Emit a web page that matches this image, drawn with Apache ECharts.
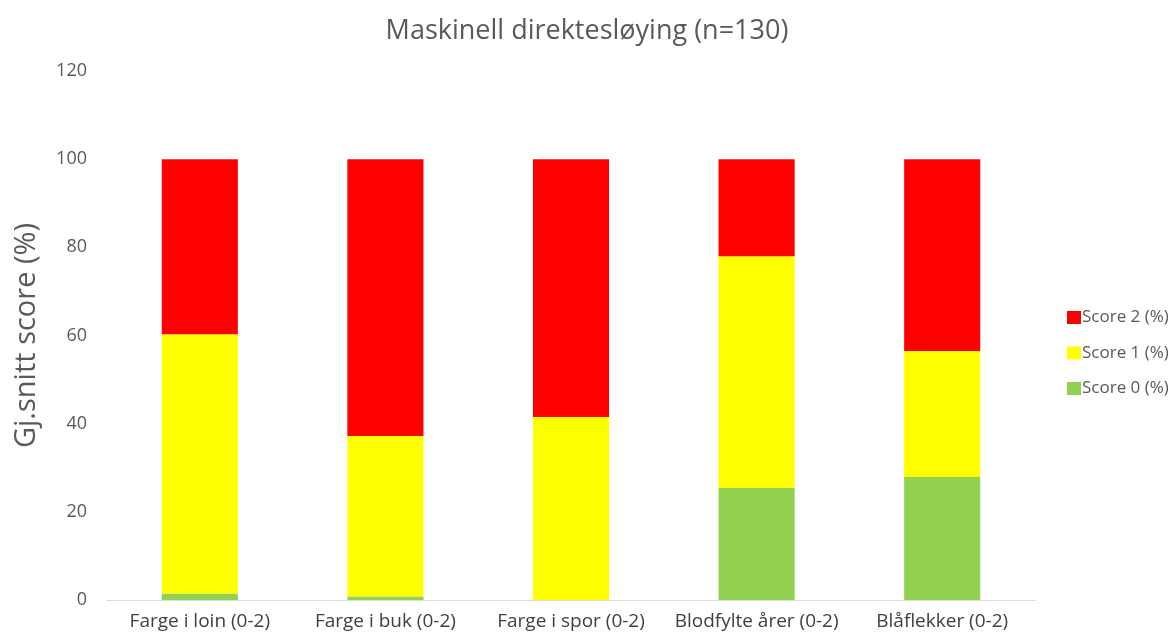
<!DOCTYPE html>
<html><head><meta charset="utf-8">
<script src="https://cdn.jsdelivr.net/npm/echarts@6/dist/echarts.min.js"></script>
<style>html,body{margin:0;padding:0;background:#fff}#c{width:1174px;height:643px}</style>
</head><body><div id="c"></div>
<script>
const categories = ['Farge i loin (0-2)', 'Farge i buk (0-2)', 'Farge i spor (0-2)', 'Blodfylte årer (0-2)', 'Blåflekker (0-2)'];
const score0 = [1.5, 0.8, 0, 25.4, 27.9];
const score1 = [58.8, 36.4, 41.5, 52.6, 28.6];
const score2 = [39.7, 62.8, 58.5, 22.0, 43.5];
const seriesNames = ['Score 0 (%)', 'Score 1 (%)', 'Score 2 (%)'];
const colors = ['#92D050', '#FFFF00', '#FF0000'];
const font = 'Open Sans';
const chart = echarts.init(document.getElementById('c'), null, {renderer: 'canvas'});
const vals = [score0, score1, score2];
chart.setOption({
  animation: false,
  textStyle: {fontFamily: font},
  title: {text: 'Maskinell direktesløying (n=130)', left: 'center', top: 13,
    textStyle: {fontFamily: font, fontSize: 27, fontWeight: 'normal', color: '#595959'}},
  legend: {orient: 'vertical', left: 1062, top: 304, itemWidth: 14, itemHeight: 13, itemGap: 18.5,
    icon: 'rect', data: ['Score 2 (%)', 'Score 1 (%)', 'Score 0 (%)'],
    textStyle: {fontFamily: font, fontSize: 17, color: '#595959', padding: [0,0,0,-4]}},
  grid: {left: 107, right: 139, top: 71, bottom: 43},
  xAxis: {type: 'category', data: categories,
    axisLine: {lineStyle: {color: '#d9d9d9'}}, axisTick: {show: false},
    axisLabel: {fontFamily: font, fontSize: 19, color: '#404040', margin: 12, interval: 0}},
  yAxis: {type: 'value', min: 0, max: 120, interval: 20,
    name: 'Gj.snitt score (%)', nameLocation: 'middle', nameGap: 66,
    nameTextStyle: {fontFamily: font, fontSize: 29, color: '#595959'},
    axisLine: {show: false}, axisTick: {show: false}, splitLine: {show: false},
    axisLabel: {fontFamily: font, fontSize: 18, color: '#595959', margin: 20}},
  series: seriesNames.map((n, i) => ({
    name: n, type: 'bar', stack: 'a', data: vals[i], barWidth: '41%',
    itemStyle: {color: colors[i]}
  }))
});
</script></body></html>
